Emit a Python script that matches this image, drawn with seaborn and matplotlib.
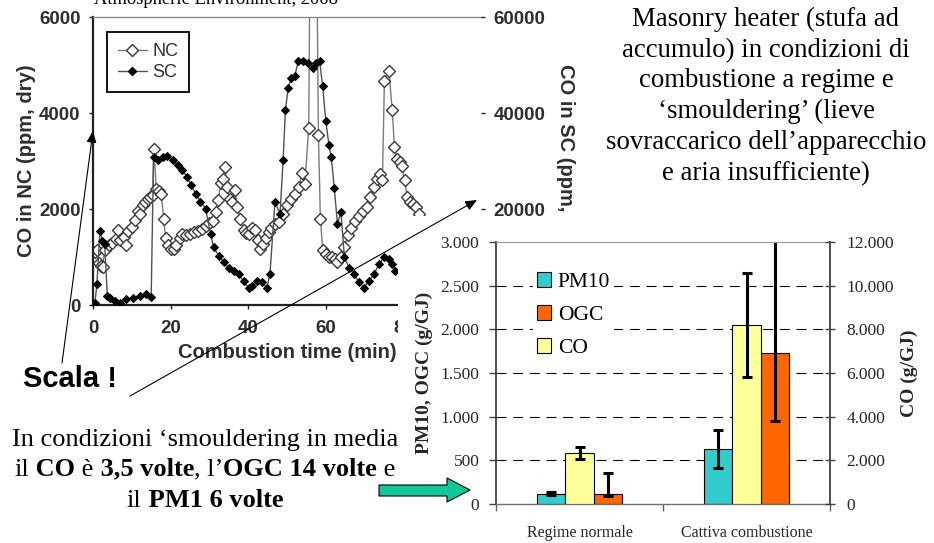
import matplotlib
matplotlib.use("Agg")
import matplotlib.pyplot as plt
import numpy as np
import pandas as pd
import seaborn as sns
from matplotlib.patches import Rectangle, Polygon, FancyArrowPatch, Patch
from matplotlib.lines import Line2D
from matplotlib.offsetbox import TextArea, HPacker, AnnotationBbox

# ---- CO concentration during combustion (ppm, dry) ----
nc_time = [0.5, 1.0, 1.5, 2.0, 2.5, 3.0, 4.0, 5.0, 6.0, 6.5, 7.0, 8.0, 8.6, 9.0,
           10.0, 10.7, 11.5, 12.0, 12.8, 13.5, 14.1, 14.8, 15.4, 15.7, 16.3, 17.0,
           17.6, 18.2, 18.7, 19.3, 20.0, 20.8, 21.5, 22.3, 23.0, 24.0, 25.0, 26.0,
           27.0, 28.0, 29.0, 30.0, 30.8, 31.6, 32.3, 32.9, 33.5, 34.0, 34.6, 35.2,
           35.8, 36.5, 37.2, 38.0, 38.8, 39.5, 40.3, 41.0, 41.8, 42.5, 43.0, 43.7,
           44.5, 45.3, 46.0, 47.0, 48.0, 49.0, 50.0, 51.0, 52.0, 53.0, 53.9, 54.6,
           55.6, 56.7, 58.1, 58.6, 59.2, 60.0, 60.8, 61.6, 62.4, 63.0, 63.8, 64.8,
           65.6, 66.5, 67.5, 68.5, 69.5, 70.5, 71.5, 72.5, 73.3, 74.0, 74.6, 75.1,
           76.3, 77.1, 77.7, 78.3, 79.0, 79.6, 80.3, 81.0, 81.7, 82.5, 83.3, 84.0]
nc_co = [1100, 1150, 880, 820, 800, 1150, 1250, 1300, 1380, 1570, 1350, 1420, 1260, 1550,
         1620, 1780, 1950, 1900, 2090, 2150, 2200, 2250, 2300, 3260, 2420, 2380,
         2320, 1800, 1400, 1250, 1170, 1160, 1250, 1400, 1470, 1450, 1480, 1520,
         1540, 1580, 1650, 1700, 1760, 1940, 2180, 2540, 2620, 2880, 2460, 2200,
         2150, 2390, 2050, 1800, 1560, 1500, 1480, 1600, 1560, 1350, 1170, 1280,
         1400, 1520, 1600, 1680, 1720, 1900, 2080, 2200, 2320, 2460, 2740, 2530,
         3690, 16000, 3550, 1800, 1150, 1060, 1000, 990, 950, 890, 990, 1200,
         1450, 1600, 1750, 1850, 1950, 2050, 2250, 2450, 2620, 2720, 2600, 4660,
         4870, 4070, 3300, 3050, 2980, 2900, 2600, 2250, 2150, 2100, 2050, 1900]

sc_time = [0.0, 0.5, 1.0, 1.8, 2.4, 3.0, 3.7, 4.5, 5.6, 6.9, 8.6, 10.3, 12.0, 13.7,
           15.0, 15.6, 16.7, 18.0, 19.2, 20.5, 21.8, 23.0, 24.3, 25.2, 26.5, 27.7,
           29.0, 30.3, 31.1, 32.4, 33.7, 35.0, 36.3, 37.5, 38.8, 40.1, 40.9, 42.2,
           43.5, 44.8, 45.6, 46.9, 48.2, 49.0, 49.6, 50.3, 51.1, 52.0, 52.9, 54.1,
           55.4, 56.7, 57.5, 58.4, 59.2, 60.0, 60.8, 61.4, 62.2, 63.0, 63.9, 64.8,
           66.0, 67.3, 68.6, 69.9, 71.1, 72.4, 73.7, 75.0, 76.3, 77.1, 77.9]
sc_co = [0, 500, 4300, 15500, 13400, 12700, 1900, 1500, 850, 500, 1200, 1500, 1900, 2250,
         1700, 30900, 30200, 30900, 31000, 30200, 29200, 28100, 26700, 25000, 23200, 21500,
         20100, 14800, 12000, 10300, 8900, 7800, 7100, 6400, 5000, 3600, 4000, 5000,
         4700, 3600, 6400, 21500, 19000, 30200, 40700, 45200, 47300, 47700, 50800, 50800,
         50500, 49400, 50500, 50800, 45600, 38300, 33400, 30900, 24300, 16900, 19400, 9900,
         7800, 6400, 4700, 3600, 5000, 6400, 8500, 9900, 9600, 8500, 7100]

nc_ticks = [0, 2000, 4000, 6000]
sc_ticks = [0, 20000, 40000, 60000]
time_ticks = [0, 20, 40, 60, 80]

# ---- Emission factors (g/GJ) ----
conditions = ["Regime normale", "Cattiva combustione"]
pm10 = [120, 630]
pm10_err_low = [12, 220]
pm10_err_high = [12, 215]
ogc = [120, 1725]
ogc_err_low = [25, 775]
ogc_err_high = [232, 1400]
co = [2325, 8200]
co_err_low = [250, 2400]
co_err_high = [270, 2400]

left_ticks = [0, 500, 1000, 1500, 2000, 2500, 3000]
left_tick_labels = ["0", "500", "1.000", "1.500", "2.000", "2.500", "3.000"]
right_ticks = [0, 2000, 4000, 6000, 8000, 10000, 12000]
right_tick_labels = ["0", "2.000", "4.000", "6.000", "8.000", "10.000", "12.000"]

W, H = 934, 543
sns.set_theme(style="white")
SERIF = ["Liberation Serif", "DejaVu Serif"]
SANS = ["Liberation Sans", "DejaVu Sans"]
plt.rcParams["font.family"] = SERIF
plt.rcParams["text.color"] = "black"

fig = plt.figure(figsize=(W / 100, H / 100), dpi=100)
fig.patch.set_facecolor("white")


def box(l, t, r, b):
    return [l / W, 1 - b / H, (r - l) / W, (b - t) / H]


def fpt(x, y):
    return (x / W, 1 - y / H)


ink = "#2e2e2e"

# ================= CO time series =================
ax = fig.add_axes(box(93, 17, 481, 305), zorder=0)
axr = ax.twinx()
axr.set_zorder(0.1)

sns.lineplot(x=nc_time, y=nc_co, ax=ax, color="#7a7a7a", lw=1.0, marker="D",
             markersize=6, markerfacecolor="white", markeredgecolor="#3a3a3a",
             markeredgewidth=1.0, estimator=None, sort=False, legend=False)
sns.lineplot(x=sc_time, y=sc_co, ax=axr, color="#505050", lw=1.0, marker="D",
             markersize=4.5, markerfacecolor="black", markeredgecolor="black",
             estimator=None, sort=False, legend=False)

ax.set_xlim(0, 100)
ax.set_ylim(0, 6000)
axr.set_ylim(0, 60000)

ax.spines["right"].set_visible(False)
for s in ["left", "bottom", "top", "right"]:
    axr.spines[s].set_visible(False)
ax.spines["left"].set_color("#222222")
ax.spines["left"].set_linewidth(1.6)
ax.spines["bottom"].set_color("#222222")
ax.spines["bottom"].set_linewidth(1.6)
ax.spines["top"].set_color("#8a8a8a")
ax.spines["top"].set_linewidth(1.0)

tick_font = dict(fontfamily=SANS, fontweight="bold", fontsize=13.5, color=ink)
ax.set_yticks(nc_ticks, labels=[str(v) for v in nc_ticks], **tick_font)
ax.set_xticks(time_ticks, labels=[str(v) for v in time_ticks], **tick_font)
axr.set_yticks(sc_ticks, labels=[str(v) for v in sc_ticks], **tick_font)
ax.tick_params(axis="y", direction="out", length=3, width=1, pad=6, left=True, color="#222222")
ax.tick_params(axis="x", direction="out", length=3, width=1, pad=8, bottom=True, color="#222222")
axr.tick_params(axis="y", direction="out", length=3, width=1, pad=6, right=True, color="#222222")

ax.set_xlabel("Combustion time (min)", fontfamily=SANS, fontweight="bold", fontsize=14.5, color=ink)
ax.xaxis.set_label_coords(0.5, (305 - 343) / 288)
ax.set_ylabel("CO in NC (ppm, dry)", fontfamily=SANS, fontweight="bold", fontsize=14.5, color=ink)
ax.yaxis.set_label_coords((36 - 93) / 388, 0.5)
axr.set_ylabel("")
fig.text(566 / W, 1 - 160 / H, "CO in SC (ppm, dry)", rotation=270, ha="center", va="center",
         fontfamily=SANS, fontweight="bold", fontsize=14.5, color=ink, zorder=0.5)

h_nc = Line2D([], [], color="#7a7a7a", lw=1.0, marker="D", markersize=6,
              markerfacecolor="white", markeredgecolor="#3a3a3a")
h_sc = Line2D([], [], color="#505050", lw=1.0, marker="D", markersize=4.5,
              markerfacecolor="black", markeredgecolor="black")
leg1 = axr.legend([h_nc, h_sc], ["NC", "SC"], loc="upper left",
                  bbox_to_anchor=((107 - 93) / 388, (305 - 32) / 288), borderaxespad=0,
                  frameon=True, fancybox=False, edgecolor="black", framealpha=1,
                  prop={"family": SANS, "size": 13}, labelcolor=ink,
                  handlelength=1.6, handletextpad=0.3, borderpad=0.6, labelspacing=0.25)
leg1.get_frame().set_linewidth(1.3)

fig.text(216 / W, 1 - 4 / H, "Atmospheric Environment, 2008", ha="center", va="baseline",
         fontfamily=SERIF, fontsize=13.3, zorder=0.5)

# white panel hiding part of the time series
fig.add_artist(Rectangle((398 / W, 0), 1 - 398 / W, (H - 216) / H, transform=fig.transFigure,
                         facecolor="white", edgecolor="none", zorder=1))

# ================= Emission factors =================
axb = fig.add_axes(box(496, 242, 830, 504), zorder=2)
axc = axb.twinx()
axc.set_zorder(2.1)

palette = {"PM10": "#33CCCC", "CO": "#FFFF99", "OGC": "#FF6600"}
hue_order = ["PM10", "CO", "OGC"]
df_left = pd.DataFrame({"condizione": conditions * 2,
                        "inquinante": ["PM10"] * 2 + ["OGC"] * 2,
                        "valore": pm10 + ogc})
df_right = pd.DataFrame({"condizione": conditions, "inquinante": ["CO"] * 2, "valore": co})

bar_kw = dict(x="condizione", y="valore", hue="inquinante", hue_order=hue_order,
              order=conditions, palette=palette, width=0.503, dodge=True, edgecolor="black",
              linewidth=0.8, errorbar=None, legend=False, saturation=1)
sns.barplot(data=df_left, ax=axb, **bar_kw)
sns.barplot(data=df_right, ax=axc, **bar_kw)

axb.set_xlim(-0.5, 1.5)
axb.set_ylim(0, 3000)
axc.set_ylim(0, 12000)

left_bars = sorted(axb.patches, key=lambda p: p.get_x())
left_x = [p.get_x() + p.get_width() / 2 for p in left_bars]
co_bars = sorted(axc.patches, key=lambda p: p.get_x())
co_x = [p.get_x() + p.get_width() / 2 for p in co_bars]

err_kw = dict(fmt="none", ecolor="black", elinewidth=2.2, capsize=3.6, capthick=2.2)
axb.errorbar([left_x[0], left_x[2]], pm10, yerr=[pm10_err_low, pm10_err_high], **err_kw)
axb.errorbar([left_x[1], left_x[3]], ogc, yerr=[ogc_err_low, ogc_err_high], **err_kw)
axc.errorbar(co_x, co, yerr=[co_err_low, co_err_high], **err_kw)

axb.hlines(left_ticks[1:-1], -0.5, 1.5, colors="black", linestyles=(0, (9, 6)), lw=0.8, zorder=0.5)

axb.set_yticks(left_ticks, labels=left_tick_labels, fontfamily=SERIF, fontsize=12.5)
axc.set_yticks(right_ticks, labels=right_tick_labels, fontfamily=SERIF, fontsize=12.5)
axb.set_xticks([0, 1], labels=conditions, fontfamily=SERIF, fontsize=11.5)
axb.set_xticks([-0.5, 0.5, 1.5], minor=True)
axb.tick_params(axis="y", direction="out", length=5, width=1, pad=7, left=True, color="#404040")
axc.tick_params(axis="y", direction="inout", length=7, width=1, pad=8.5, right=True, color="#404040")
axb.tick_params(axis="x", which="major", length=0, pad=15)
axb.tick_params(axis="x", which="minor", direction="out", length=5, width=1, bottom=True, color="#606060")

for s in ["left", "bottom", "top", "right"]:
    axc.spines[s].set_visible(False)
axb.spines["right"].set_visible(False)
axc.spines["right"].set_visible(True)
axc.spines["right"].set_color("#404040")
axc.spines["right"].set_linewidth(1.3)
axb.spines["left"].set_color("#404040")
axb.spines["left"].set_linewidth(1.3)
axb.spines["bottom"].set_color("#707070")
axb.spines["bottom"].set_linewidth(1.0)
axb.spines["top"].set_color("#9a9a9a")
axb.spines["top"].set_linewidth(0.8)

axb.set_xlabel("")
axb.set_ylabel("PM10, OGC (g/GJ)", fontfamily=SERIF, fontweight="bold", fontsize=14)
axb.yaxis.set_label_coords((433 - 496) / 334, 0.5)
axc.set_ylabel("CO (g/GJ)", fontfamily=SERIF, fontweight="bold", fontsize=14, rotation=90)
axc.yaxis.set_label_coords((901 - 496) / 334, 0.5)

handles = [Patch(facecolor=palette[k], edgecolor="black", lw=0.8) for k in ["PM10", "OGC", "CO"]]
leg2 = axc.legend(handles, ["PM10", "OGC", "CO"], loc="upper left",
                  bbox_to_anchor=((533 - 496) / 334, (504 - 268) / 262), borderaxespad=0,
                  frameon=True, facecolor="white", edgecolor="none", framealpha=1, fancybox=False,
                  prop={"family": SERIF, "size": 15.5}, handlelength=0.65, handleheight=0.65,
                  handletextpad=0.3, labelspacing=0.62, borderpad=0.2)

# ================= Slide text and pointers =================
right_lines = ["Masonry heater (stufa ad", "accumulo) in condizioni di",
               "combustione a regime e", "\u2018smouldering\u2019 (lieve",
               "sovraccarico dell\u2019apparecchio", "e aria insufficiente)"]
right_baselines = [26, 57, 87, 118, 149, 180]
for txt, yb in zip(right_lines, right_baselines):
    fig.text(766 / W, 1 - yb / H, txt, ha="center", va="baseline", fontfamily=SERIF,
             fontsize=19.3, zorder=5)

fig.text(23 / W, 1 - 387 / H, "Scala !", ha="left", va="baseline", fontfamily=SANS,
         fontweight="bold", fontsize=21, zorder=5)

note_lines = [
    [("In condizioni \u2018smouldering in media", "normal")],
    [("il", "normal"), (" CO", "bold"), (" \u00e8", "normal"), (" 3,5 volte", "bold"),
     (", l\u2019", "normal"), ("OGC 14 volte", "bold"), (" e", "normal")],
    [("il", "normal"), (" PM1 6 volte", "bold")],
]
note_baselines = [445, 475, 506]
for segs, yb in zip(note_lines, note_baselines):
    parts = [TextArea(s, textprops=dict(fontfamily=SERIF, fontsize=19, fontweight=w))
             for s, w in segs]
    pack = HPacker(children=parts, align="baseline", pad=0, sep=0)
    ab = AnnotationBbox(pack, (205, H - yb - 5.6), xycoords="figure pixels",
                        box_alignment=(0.5, 0.0), frameon=False, pad=0, zorder=5)
    fig.add_artist(ab)

arrow_kw = dict(transform=fig.transFigure, arrowstyle="-|>,head_length=0.7,head_width=0.3",
                mutation_scale=10, lw=0.8, color="black", zorder=6, shrinkA=0, shrinkB=0)
fig.add_artist(FancyArrowPatch(fpt(62, 363), fpt(93, 131), **arrow_kw))
fig.add_artist(FancyArrowPatch(fpt(130, 396), fpt(477, 200), **arrow_kw))

green_pts = [fpt(379, 485), fpt(447, 485), fpt(447, 478), fpt(470, 490),
             fpt(447, 502), fpt(447, 496), fpt(379, 496)]
fig.add_artist(Polygon(green_pts, closed=True, transform=fig.transFigure,
                       facecolor="#10C898", edgecolor="black", lw=0.8, zorder=6))

fig.savefig("out.png", dpi=100, facecolor="white")
